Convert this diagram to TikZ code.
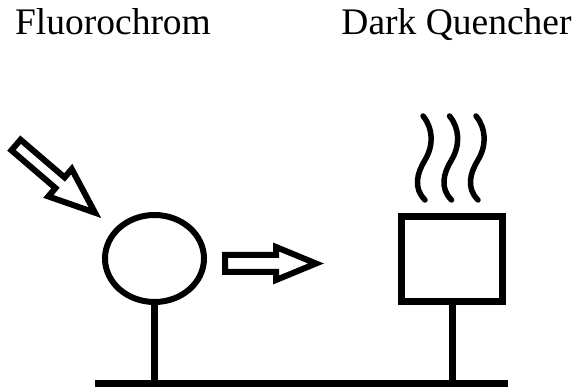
\documentclass[tikz,border=0pt]{standalone}
\usepackage{fontspec}
\setmainfont{Liberation Serif}
\usetikzlibrary{shapes.geometric}
\begin{document}
\begin{tikzpicture}[x=1pt,y=-1pt,
  lbl/.style={font=\fontsize{37.5}{42}\selectfont, anchor=base, inner sep=0pt},
  hollow/.style={draw, line width=6pt, line join=miter, fill=white},
  wave/.style={line width=5.5pt, line cap=round}]
\useasboundingbox (0,0) rectangle (576,387);
\fill[white] (0,0) rectangle (576,387);
\node[lbl] (t1) at (113,35) {Fluorochrom};
\node[lbl] (t2) at (456.5,35) {Dark Quencher};
% fluorophore
\node[draw, ellipse, line width=6pt, minimum width=99pt, minimum height=87pt, inner sep=0pt] (fluor) at (154.5,258.5) {};
% quencher box
\node[draw, rectangle, line width=7pt, minimum width=101pt, minimum height=85pt, inner sep=0pt] (quench) at (452,259.5) {};
% bar
\fill (95,380) rectangle (508,390);
\coordinate (b1) at (154.5,381);
\coordinate (b2) at (452,381);
\draw[line width=7pt] (fluor.south) -- (b1);
\draw[line width=7pt] (quench.south) -- (b2);
% right hollow arrow
\draw[hollow] (225,255) -- (276,255) -- (276,247) -- (316,263.5) -- (276,280) -- (276,272) -- (225,272) -- cycle;
% diagonal hollow arrow
\begin{scope}[shift={(16,145)}, rotate=-40.6]
\draw[hollow] (0,-7) -- (58,-7) -- (58,-18) -- (104,0) -- (58,18) -- (58,7) -- (0,7) -- cycle;
\end{scope}
% heat waves
\foreach \x in {423,449.5,476}{
  \draw[wave] (\x,116) .. controls (\x+10,128) and (\x+11,145) .. (\x+2,160)
     .. controls (\x-6,173) and (\x-10,188) .. (\x+2,200);
}
\end{tikzpicture}
\end{document}
